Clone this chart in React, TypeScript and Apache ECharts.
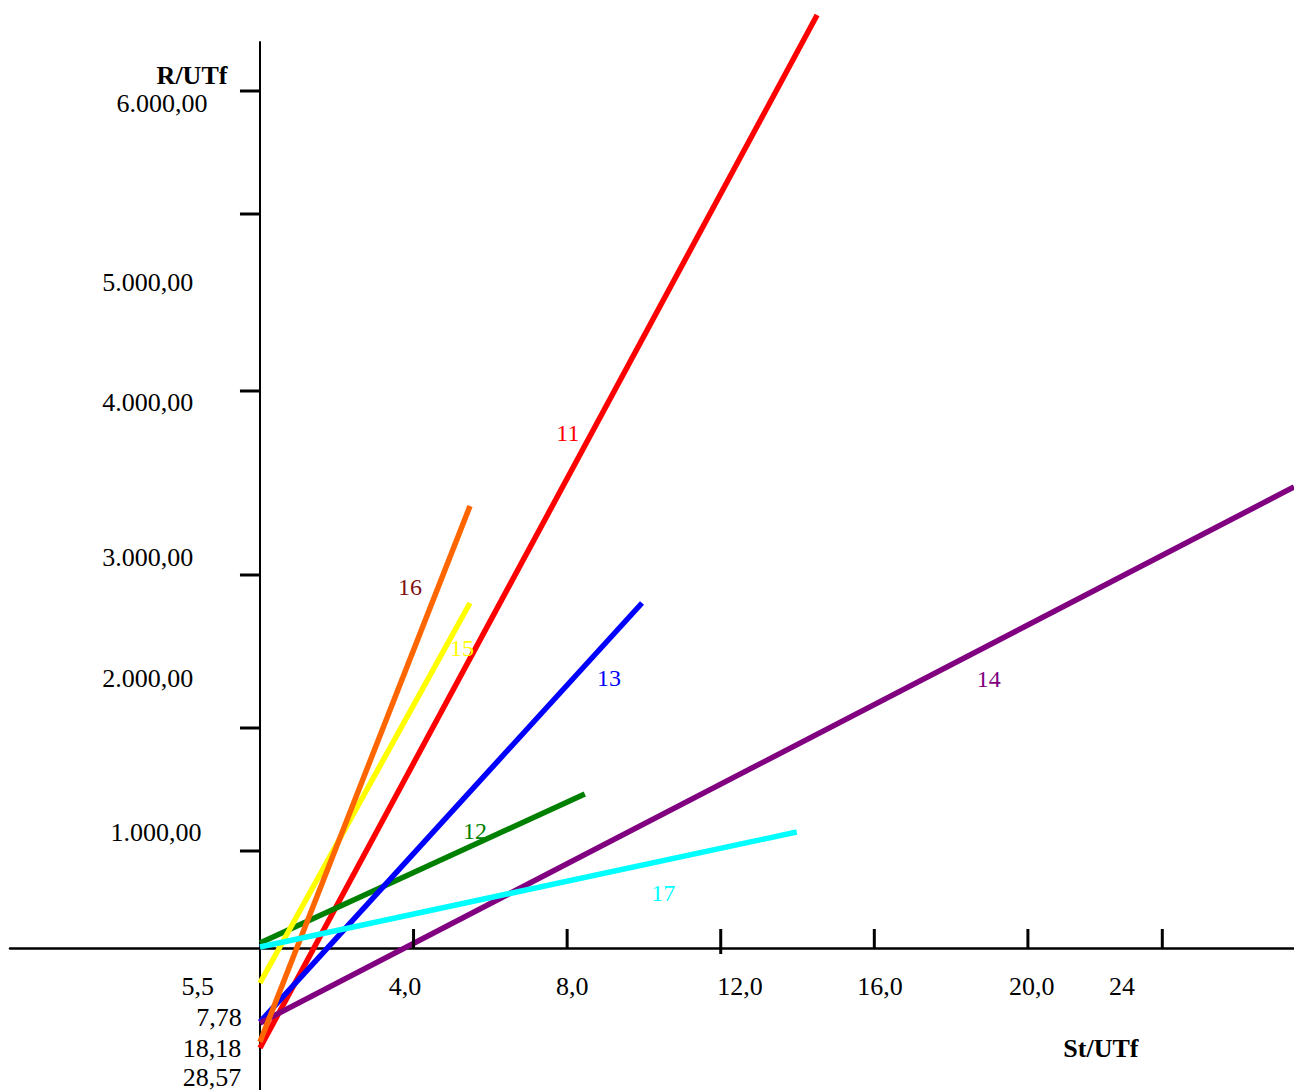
import React, { useEffect, useRef } from "react";
import * as echarts from "echarts";

// ---------------- data ----------------
const seriesNames = ["11", "12", "13", "14", "15", "16", "17"];
// start point (on the R axis) and end point of every straight line
const seriesStart = [
  [0, -700],
  [0, 35],
  [0, -518],
  [0, -525],
  [0, -245],
  [0, -658],
  [0, 7],
];
const seriesEnd = [
  [14.51, 6531],
  [8.46, 1078],
  [9.95, 2415],
  [26.93, 3227],
  [5.47, 2415],
  [5.47, 3094],
  [13.98, 812],
];
const xTickValues = [4, 8, 12, 16, 20, 23.5];
const xTickLabels = ["4,0", "8,0", "12,0", "16,0", "20,0", "24"];
const yTickValues = [679, 1540, 2611, 3899, 5138, 5999];
const yTickLabels = ["1.000,00", "2.000,00", "3.000,00", "4.000,00", "5.000,00", "6.000,00"];
const interceptLabels = ["5,5", "7,78", "18,18", "28,57"];
const xAxisName = "St/UTf";
const yAxisName = "R/UTf";

// ---------------- layout & style ----------------
const X_MIN = -6.51;
const X_MAX = 26.93;
const Y_MIN = -994;
const Y_MAX = 6342;
const seriesColors = ["#ff0000", "#008000", "#0000ff", "#800080", "#ffff00", "#ff6600", "#00ffff"];
const labelColors = ["#ff0000", "#008000", "#0000ff", "#800080", "#ffff00", "#7f1010", "#00ffff"];
const seriesLabelPos = [
  [8.02, 3605],
  [5.6, 819],
  [9.09, 1890],
  [18.98, 1883],
  [5.26, 2100],
  [3.91, 2527],
  [10.5, 385],
];
const xTickLabelX = [3.78, 8.13, 12.5, 16.15, 20.1, 22.45];
const xTickLabelY = -266;
const xTickBelow = [0, 0, 6, 0, 0, 0];
const yTickLabelPos = [
  [-2.71, 812],
  [-2.92, 1890],
  [-2.92, 2737],
  [-2.92, 3822],
  [-2.92, 4662],
  [-2.55, 5915],
];
const interceptLabelPos = [
  [-1.62, -266],
  [-1.07, -483],
  [-1.25, -700],
  [-1.25, -903],
];
const xNamePos = [21.9, -700];
const yNamePos = [-1.77, 6111];

const FONT = '"Liberation Serif", "Times New Roman", serif';

function textSeries(name: string, pos: number[][], texts: string[], colors: string[] | string, size: number, bold = false) {
  return {
    type: "custom",
    name,
    coordinateSystem: "cartesian2d",
    silent: true,
    z: 10,
    data: pos.map((p) => [p[0], p[1]]),
    renderItem: (params: any, api: any) => {
      const i = params.dataIndex;
      const c = api.coord([api.value(0), api.value(1)]);
      return {
        type: "text",
        x: c[0],
        y: c[1],
        style: {
          text: texts[i],
          fill: Array.isArray(colors) ? colors[i] : colors,
          font: `${bold ? "bold " : ""}${size}px ${FONT}`,
          align: "center",
          verticalAlign: "middle",
        },
      };
    },
  };
}

export default function App() {
  const ref = useRef<HTMLDivElement>(null);

  useEffect(() => {
    if (!ref.current) return;
    const chart = echarts.init(ref.current, undefined, { renderer: "svg" });

    const lineSeries = seriesNames.map((name, i) => ({
      type: "line",
      name,
      data: [seriesStart[i], seriesEnd[i]],
      symbol: "none",
      clip: false,
      silent: true,
      z: 3,
      lineStyle: { color: seriesColors[i], width: 5.5, cap: "butt" },
    }));

    const xTicks = {
      type: "custom",
      coordinateSystem: "cartesian2d",
      silent: true,
      z: 5,
      data: xTickValues.map((v) => [v, 0]),
      renderItem: (params: any, api: any) => {
        const c = api.coord([api.value(0), 0]);
        return {
          type: "line",
          shape: { x1: c[0], y1: c[1] - 19, x2: c[0], y2: c[1] + xTickBelow[params.dataIndex] },
          style: { stroke: "#000", lineWidth: 3 },
        };
      },
    };
    const yTicks = {
      type: "custom",
      coordinateSystem: "cartesian2d",
      silent: true,
      z: 5,
      data: yTickValues.map((v) => [0, v]),
      renderItem: (params: any, api: any) => {
        const c = api.coord([0, api.value(1)]);
        return {
          type: "line",
          shape: { x1: c[0] - 20, y1: c[1], x2: c[0], y2: c[1] },
          style: { stroke: "#000", lineWidth: 3 },
        };
      },
    };

    chart.setOption({
      animation: false,
      backgroundColor: "#ffffff",
      grid: { left: 10, right: 0, top: 42, bottom: 0, containLabel: false },
      xAxis: {
        type: "value",
        min: X_MIN,
        max: X_MAX,
        axisLine: { onZero: true, lineStyle: { color: "#000", width: 2.5 } },
        axisTick: { show: false },
        axisLabel: { show: false },
        splitLine: { show: false },
      },
      yAxis: {
        type: "value",
        min: Y_MIN,
        max: Y_MAX,
        axisLine: { show: true, onZero: true, lineStyle: { color: "#000", width: 2 } },
        axisTick: { show: false },
        axisLabel: { show: false },
        splitLine: { show: false },
      },
      series: [
        ...lineSeries,
        xTicks,
        yTicks,
        textSeries("seriesLabels", seriesLabelPos, seriesNames, labelColors, 24),
        textSeries("xTickLabels", xTickLabelX.map((x) => [x, xTickLabelY]), xTickLabels, "#000", 26),
        textSeries("yTickLabels", yTickLabelPos, yTickLabels, "#000", 26),
        textSeries("interceptLabels", interceptLabelPos, interceptLabels, "#000", 26),
        textSeries("axisNames", [xNamePos, yNamePos], [xAxisName, yAxisName], "#000", 26, true),
      ],
    });

    return () => chart.dispose();
  }, []);

  return (
    <div
      ref={ref}
      style={{ position: "absolute", left: 0, top: 0, width: 1294, height: 1090, background: "#fff" }}
    />
  );
}
